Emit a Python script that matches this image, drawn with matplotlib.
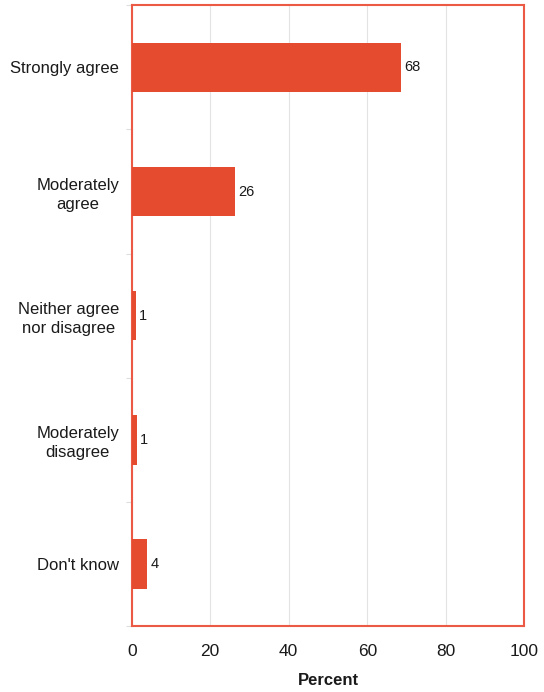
import matplotlib
matplotlib.use("Agg")
import matplotlib.pyplot as plt
import numpy as np

plt.rcParams['font.family'] = ['Liberation Sans', 'DejaVu Sans']

categories = ["Strongly agree", "Moderately\nagree", "Neither agree\nnor disagree",
              "Moderately\ndisagree", "Don't know"]
values = [68.5, 26.4, 1.1, 1.35, 4.0]
labels = ["68", "26", "1", "1", "4"]

bar_color = "#E54B2F"
frame_color = "#EA5A44"

fig = plt.figure(figsize=(5.44, 6.92), dpi=100)
ax = fig.add_axes([131.7 / 544, 1 - 626 / 692, (524.3 - 131.7) / 544, (626 - 5.3) / 692])

y = np.arange(len(categories))
ax.barh(y, values, height=0.4, color=bar_color, zorder=3)
for yi, v, lab in zip(y, values, labels):
    ax.text(v + 0.8, yi, lab, va="center", ha="left", fontsize=10.5, color="#1a1a1a")

ax.set_xlim(0, 100)
ax.set_ylim(len(categories) - 0.5, -0.5)
ax.set_xticks([0, 20, 40, 60, 80, 100])
ax.tick_params(axis="x", labelsize=12.5, length=0, pad=13, colors="#1a1a1a")
ax.grid(axis="x", color="#E3E3E3", linewidth=0.8, zorder=0)

# category labels at centers, faint tick marks at the boundaries
ax.set_yticks(y)
ax.set_yticklabels(categories, fontsize=12, color="#1a1a1a", linespacing=1.35,
                   multialignment="center")
ax.tick_params(axis="y", length=0, pad=9)
ax.set_yticks(np.arange(len(categories) + 1) - 0.5, minor=True)
ax.tick_params(axis="y", which="minor", length=4, color="#DDDDDD", width=0.8)

for s in ax.spines.values():
    s.set_color(frame_color)
    s.set_linewidth(1.5)

ax.set_xlabel("Percent", fontsize=12, fontweight="bold", labelpad=10, color="#1a1a1a")

fig.savefig("out.png", dpi=100)
